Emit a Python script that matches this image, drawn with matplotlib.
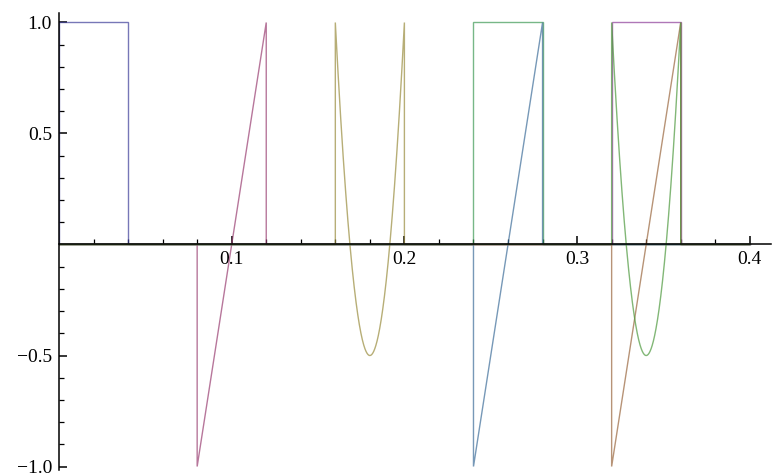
import numpy as np
import matplotlib
matplotlib.use('Agg')
import matplotlib.pyplot as plt
from matplotlib.ticker import FixedLocator

# Piecewise Legendre pieces: each curve lives on [start, start + width], zero elsewhere
starts = [0.00, 0.08, 0.16, 0.24, 0.24, 0.32, 0.32, 0.32]
orders = [0, 1, 2, 0, 1, 0, 1, 2]
width = 0.04
x_max = 0.4

# Default Mathematica plot style colours, in drawing order
colors = ['#3d3d99', '#993d71', '#998c3d', '#3d9954',
          '#3d6d99', '#8d3d99', '#99663d', '#4d993d']

x_ticks = [0.1, 0.2, 0.3, 0.4]
x_labels = ['0.1', '0.2', '0.3', '0.4']
y_ticks = [-1.0, -0.5, 0.5, 1.0]
y_labels = ['\u22121.0', '\u22120.5', '0.5', '1.0']


def legendre(n, t):
    if n == 0:
        return np.ones_like(t)
    if n == 1:
        return t
    return (3 * t ** 2 - 1) / 2


fig = plt.figure(figsize=(7.75, 4.76), dpi=100)
W, H = 775, 476
ax = fig.add_axes([59 / W, 6 / H, (771 - 59) / W, (463 - 6) / H])

for a, n, c in zip(starts, orders, colors):
    t = np.linspace(-1, 1, 400)
    xs = np.concatenate([[0, a], a + (t + 1) / 2 * width, [a + width, x_max]])
    ys = np.concatenate([[0, 0], legendre(n, t), [0, 0]])
    ax.plot(xs, ys, color=c, lw=1.0, alpha=0.7, solid_joinstyle='miter')

ax.set_xlim(0, (771 - 59) / 1727)
ax.set_ylim(-1 - 3.5 / 222, 1 + 9.5 / 222)

for side in ['top', 'right']:
    ax.spines[side].set_visible(False)
ax.spines['left'].set_position(('data', 0))
ax.spines['bottom'].set_position(('data', 0))
for side in ['left', 'bottom']:
    ax.spines[side].set_linewidth(1.1)
    ax.spines[side].set_zorder(5)

ax.xaxis.set_major_locator(FixedLocator(x_ticks))
ax.set_xticklabels(x_labels)
ax.xaxis.set_minor_locator(FixedLocator([0.02, 0.04, 0.06, 0.08, 0.12, 0.14, 0.16, 0.18,
                                         0.22, 0.24, 0.26, 0.28, 0.32, 0.34, 0.36, 0.38]))
ax.yaxis.set_major_locator(FixedLocator(y_ticks))
ax.set_yticklabels(y_labels)
ax.yaxis.set_minor_locator(FixedLocator([-0.9, -0.8, -0.7, -0.6, -0.4, -0.3, -0.2, -0.1,
                                         0.1, 0.2, 0.3, 0.4, 0.6, 0.7, 0.8, 0.9]))

ax.tick_params(which='major', direction='in', length=6, width=1.1, pad=5, labelsize=14)
ax.tick_params(which='minor', direction='in', length=3.5, width=0.9)
for lab in ax.get_xticklabels() + ax.get_yticklabels():
    lab.set_fontfamily('Liberation Serif')

fig.savefig('out.png', dpi=100, facecolor='white')
